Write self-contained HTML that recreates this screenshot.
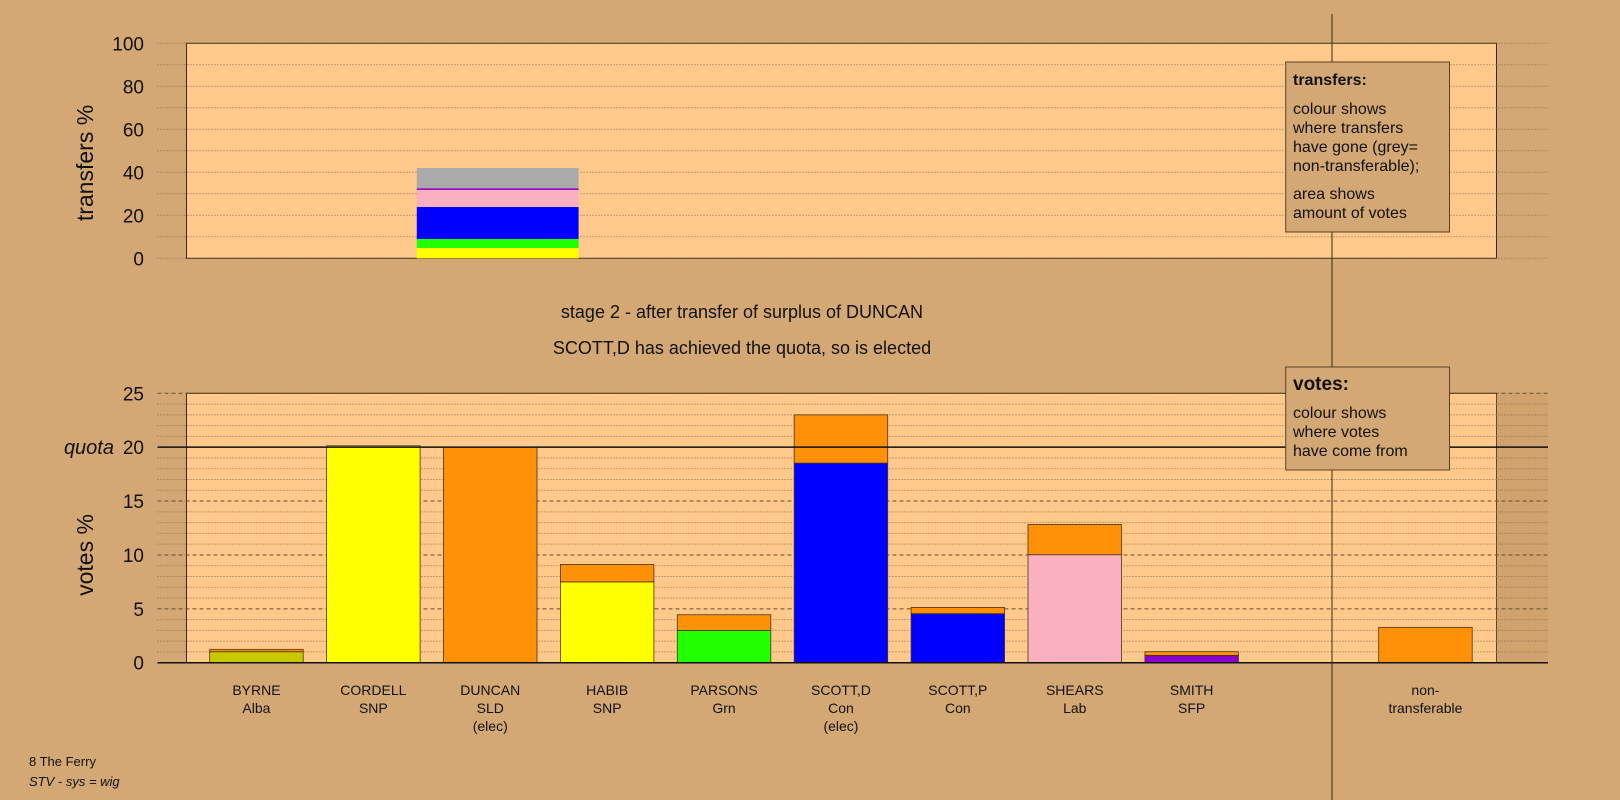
<!DOCTYPE html>
<html><head><meta charset="utf-8"><style>
body{margin:0;background:#d4a874;}
svg{display:block;font-family:"Liberation Sans",sans-serif;}
</style></head><body>
<svg id="c" width="1620" height="800" viewBox="0 0 1620 800">
<rect x="0" y="0" width="1620" height="800" fill="#d4a874"/>
</svg>
<script>
const tCats=["DUNCAN"];
const tSegColors=["#ffff00","#22ff00","#0000ff","#fbb0c0","#8800cc","#aaaaaa"];
const tSegValues=[4.8,4.2,14.9,7.9,0.8,9.4];
const tTicks=[0,20,40,60,80,100];
const cands=["BYRNE","CORDELL","DUNCAN","HABIB","PARSONS","SCOTT,D","SCOTT,P","SHEARS","SMITH","","non-"];
const parties=["Alba","SNP","SLD","SNP","Grn","Con","Con","Lab","SFP","","transferable"];
const elec=["","","(elec)","","","(elec)","","","","",""];
const baseColors=["#c8c800","#ffff00","#ff9108","#ffff00","#22ff00","#0000ff","#0000ff","#fbb0c0","#8800cc","#ff9108","#ff9108"];
const baseVals=[1.02,20.13,20.0,7.5,3.0,18.52,4.55,10.02,0.68,0,3.28];
const transVals=[0.22,0,0,1.62,1.45,4.48,0.58,2.81,0.34,0,0];
const vTicks=[0,5,10,15,20,25];
const quota=20;

const svg=document.getElementById('c');
const NS='http://www.w3.org/2000/svg';
function mk(t,a,p){const e=document.createElementNS(NS,t);for(const k in a)e.setAttribute(k,a[k]);(p||svg).appendChild(e);return e;}
function tx(s,a){const e=mk('text',a);e.textContent=s;return e;}
const FL=186.5,FR=1496.5,GL=157.5,GR=1548;
// top chart
const tY=v=>258.3-(v/100)*215;
let e=mk('rect',{x:FL,y:tY(100),width:FR-FL,height:tY(0)-tY(100),fill:'#fec98b',stroke:'#3a2a18','stroke-width':1});


for(let v=0;v<=100;v+=10){e=mk('line',{x1:GL,x2:GR,y1:tY(v),y2:tY(v),stroke:'#8a6a48','stroke-width':1,'stroke-dasharray':'1,2'});

}
tTicks.forEach(v=>{e=tx(String(v),{x:144,y:tY(v)+7,'text-anchor':'end','font-size':19,fill:'#111'});

});
e=tx('transfers %',{x:0,y:0,transform:'translate(93,163) rotate(-90)','text-anchor':'middle','font-size':23,fill:'#111'});


const slot=116.9,bx0=209.7,bw=93.5;
const bX=i=>bx0+slot*i;
let acc=0;
tSegValues.forEach((v,j)=>{e=mk('rect',{x:bX(2.0)-26.7,y:tY(acc+v),width:161.8,height:tY(acc)-tY(acc+v),fill:tSegColors[j]});

acc+=v;});
// captions
e=tx('stage 2 - after transfer of surplus of DUNCAN',{x:742,y:318,'text-anchor':'middle','font-size':18,fill:'#111'});


e=tx('SCOTT,D has achieved the quota, so is elected',{x:742,y:354,'text-anchor':'middle','font-size':18,fill:'#111'});


// bottom chart
const vY=v=>662.7-v*10.776;
e=mk('rect',{x:FL,y:vY(25),width:FR-FL,height:vY(0)-vY(25),fill:'#fec98b',stroke:'#3a2a18','stroke-width':1});


e=mk('rect',{x:FR,y:vY(25),width:GR-FR,height:vY(0)-vY(25),fill:'#c99c68',opacity:0.5});


for(let v=0;v<=25;v++){const major=v%5===0;e=mk('line',{x1:GL,x2:GR,y1:vY(v),y2:vY(v),stroke:major?'#6a4c2c':'#8a6a48','stroke-width':1,'stroke-dasharray':major?'4,3':'1,2'});

}
vTicks.forEach(v=>{e=tx(String(v),{x:144,y:vY(v)+7,'text-anchor':'end','font-size':19,fill:'#111'});

});
e=tx('quota',{x:114,y:vY(quota)+7,'text-anchor':'end','font-size':20,'font-style':'italic',fill:'#111'});


e=tx('votes %',{x:0,y:0,transform:'translate(93,555) rotate(-90)','text-anchor':'middle','font-size':23,fill:'#111'});


cands.forEach((c,i)=>{
 const b=baseVals[i],t=transVals[i];
 if(b>0){e=mk('rect',{x:bX(i),y:vY(b),width:bw,height:vY(0)-vY(b),fill:baseColors[i],stroke:'#4a3418','stroke-width':0.8});
 
 }
 if(t>0){e=mk('rect',{x:bX(i),y:vY(b+t),width:bw,height:vY(b)-vY(b+t),fill:'#ff9108',stroke:'#4a3418','stroke-width':0.8});
 
 }
 const cx=bX(i)+bw/2;
 [c,parties[i],elec[i]].forEach((s,k)=>{if(!s)return;e=tx(s,{x:cx,y:695+k*18,'text-anchor':'middle','font-size':14,fill:'#111'});
 
 });
});
e=mk('line',{x1:GL,x2:GR,y1:vY(quota),y2:vY(quota),stroke:'#111','stroke-width':1.5});


e=mk('line',{x1:GL,x2:GR,y1:vY(0),y2:vY(0),stroke:'#111','stroke-width':1.5});


e=mk('line',{x1:1332,x2:1332,y1:14,y2:800,stroke:'#3a2a18','stroke-width':1});


// legends
function legend(name,y0,h,title,tsize,lines){
 const g=mk('g',{});
 
 
 mk('rect',{x:1285.7,y:y0,width:163.8,height:h,fill:'#d4a874',stroke:'#5a4024','stroke-width':1},g);
 const t=mk('text',{x:1293,y:y0+23,'font-size':tsize,'font-weight':'bold',fill:'#111'},g);t.textContent=title;
 lines.forEach(([s,y])=>{const l=mk('text',{x:1293,y:y,'font-size':16,fill:'#111'},g);l.textContent=s;});
}
legend('transfers-legend',62,170,'transfers:',16,[['colour shows',114],['where transfers',133],['have gone (grey=',152],['non-transferable);',171],['area shows',199],['amount of votes',218]]);
legend('votes-legend',367,103,'votes:',19,[['colour shows',418],['where votes',437],['have come from',456]]);
e=tx('8 The Ferry',{x:29,y:766,'font-size':13,fill:'#111'});


e=tx('STV - sys = wig',{x:29,y:786,'font-size':13,'font-style':'italic',fill:'#111'});


</script>
</body></html>
